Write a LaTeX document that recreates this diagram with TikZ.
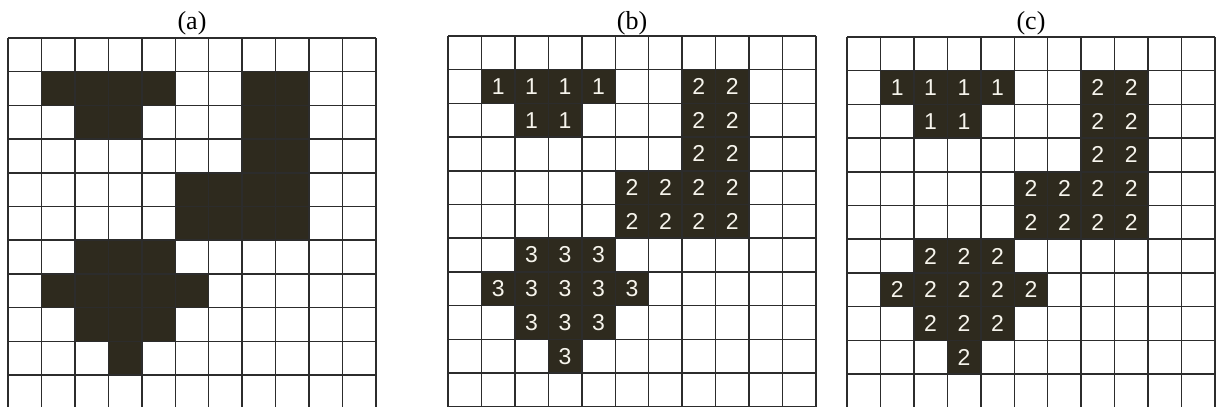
\documentclass[tikz,border=0pt]{standalone}
\usepackage{fontspec}
\setmainfont{Liberation Serif}
\setsansfont{Liberation Sans}
\definecolor{ink}{HTML}{2E2A1E}
\definecolor{rule}{HTML}{2C2C2C}
\definecolor{paper}{HTML}{F6F4EC}

\begin{document}
\begin{tikzpicture}[x=1pt,y=-1pt,cell/.style={fill=ink},gridline/.style={draw=rule,line width=1.5pt},tag/.style={font=\fontsize{26}{28}\selectfont,anchor=base},num/.style={text=paper,font=\sffamily\fontsize{23}{25}\selectfont,inner sep=0pt}]
\useasboundingbox (0,0) rectangle (1216,407);
\clip (0,0) rectangle (1216,407);
% panels: offset, title, which labels
\foreach \ox/\oy/\lab/\p in {8/38/a/0,448/36/b/1,847/37/c/2}{
  \node[tag] (title-\lab) at ({\ox+184},29) {(\lab)};
  % dark cells: row/col/label in (b)/label in (c)
  \foreach \r/\c/\nb/\nc in {1/1/1/1,1/2/1/1,1/3/1/1,1/4/1/1,1/7/2/2,1/8/2/2,
      2/2/1/1,2/3/1/1,2/7/2/2,2/8/2/2,3/7/2/2,3/8/2/2,
      4/5/2/2,4/6/2/2,4/7/2/2,4/8/2/2,5/5/2/2,5/6/2/2,5/7/2/2,5/8/2/2,
      6/2/3/2,6/3/3/2,6/4/3/2,7/1/3/2,7/2/3/2,7/3/3/2,7/4/3/2,7/5/3/2,
      8/2/3/2,8/3/3/2,8/4/3/2,9/3/3/2}{
    \fill[cell] ({\ox+\c*33.45},{\oy+\r*33.7}) rectangle ++(33.45,33.7);
    \ifnum\p>0
      \node[num] (n-\lab-\r-\c) at ({\ox+(\c+0.5)*33.45},{\oy+(\r+0.5)*33.7}) {\ifcase\p\or\nb\or\nc\fi};
    \fi
  }
  \foreach \k in {0,...,11}{
    \draw[gridline] ({\ox+\k*33.45},\oy) -- ({\ox+\k*33.45},{\oy+11*33.7});
    \draw[gridline] (\ox,{\oy+\k*33.7}) -- ({\ox+11*33.45},{\oy+\k*33.7});
  }
}
\end{tikzpicture}
\end{document}
